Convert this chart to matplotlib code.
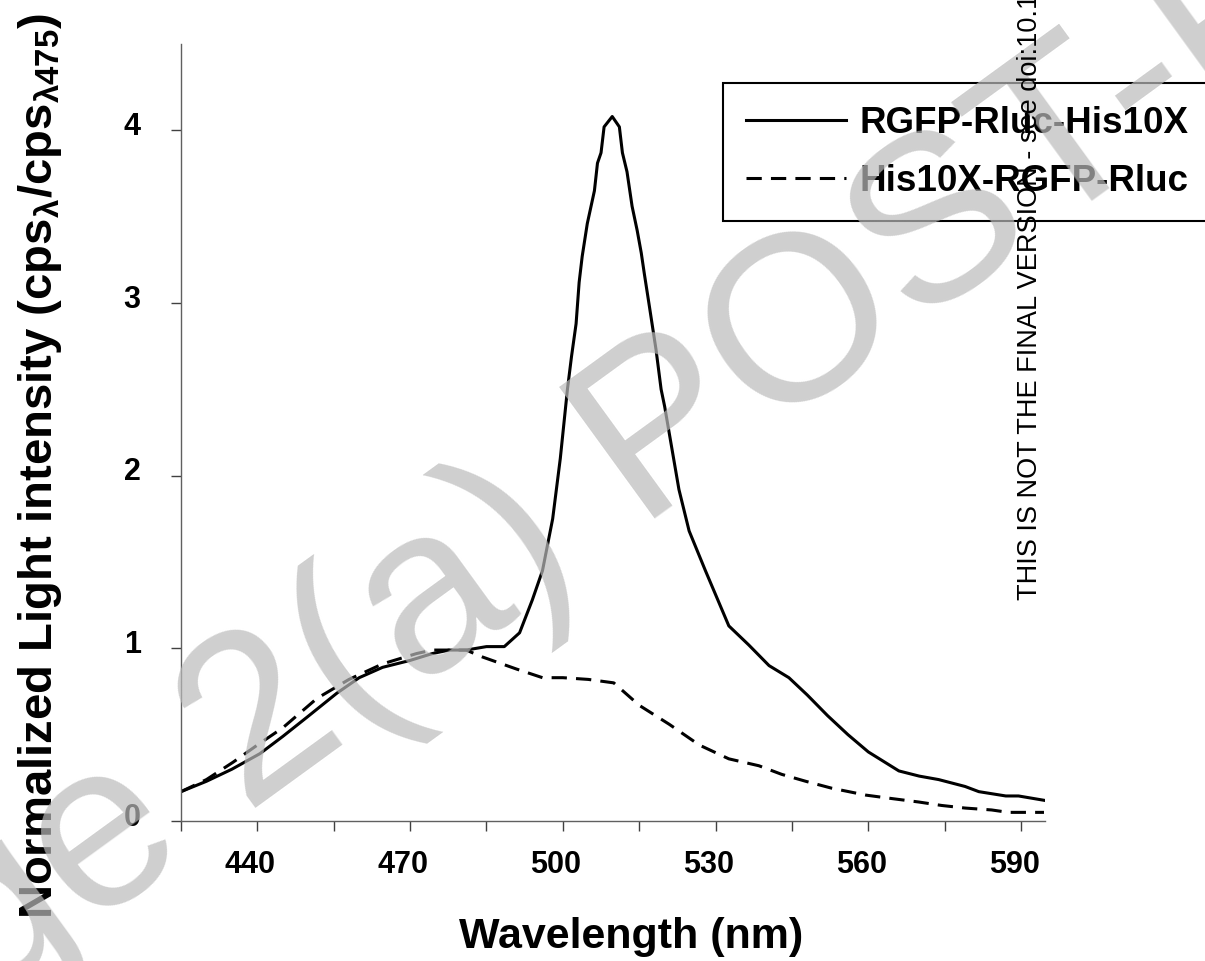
import numpy as np
import matplotlib
matplotlib.use("Agg")
import matplotlib.pyplot as plt
import matplotlib.transforms as mtrans

plt.rcParams['font.family'] = ['Liberation Sans', 'DejaVu Sans']

# RGFP-Rluc-His10X (solid)
wl_solid = [425, 430, 435, 440.5, 445, 449.7, 455.6, 460, 464.6, 470, 474.4, 477.7, 481,
            485, 488.5, 491.5, 494, 496, 498, 499.5, 500.9, 501.7, 502.6, 503.2, 503.8,
            504.8, 506.2, 506.8, 507.5, 508.1, 509.7, 511.1, 511.7, 512.6, 513.6, 514.6,
            515.4, 516, 517, 518.3, 519.3, 520, 522.8, 524.8, 528, 532.6, 536.5, 540.5,
            544.4, 548, 552, 556, 560, 566, 570, 573.8, 579, 581.7, 587, 589.5, 594.5]
int_solid = [0.17, 0.23, 0.30, 0.39, 0.49, 0.60, 0.74, 0.83, 0.89, 0.93, 0.97, 0.99, 0.99,
             1.01, 1.01, 1.09, 1.28, 1.45, 1.75, 2.10, 2.50, 2.69, 2.88, 3.12, 3.27,
             3.46, 3.65, 3.81, 3.87, 4.02, 4.08, 4.02, 3.87, 3.76, 3.56, 3.42,
             3.29, 3.17, 2.98, 2.73, 2.50, 2.40, 1.92, 1.68, 1.45, 1.13, 1.02, 0.90,
             0.83, 0.73, 0.61, 0.50, 0.40, 0.29, 0.26, 0.24, 0.20, 0.17, 0.145, 0.145, 0.12]

# His10X-RGFP-Rluc (dashed)
wl_dash = [425, 430, 435.2, 440, 445, 451.7, 458, 464.6, 471.3, 474.4, 477.7, 481, 484.2,
           490.9, 496, 500, 505, 510, 515, 520.9, 526.8, 532.6, 538.5, 543, 547.7,
           552.8, 559.5, 564.6, 569.9, 574.4, 579, 584.2, 587.5, 594.5]
int_dash = [0.17, 0.24, 0.34, 0.44, 0.54, 0.71, 0.82, 0.91, 0.97, 0.99, 0.99, 0.99, 0.95,
            0.88, 0.83, 0.83, 0.82, 0.80, 0.67, 0.56, 0.44, 0.36, 0.32, 0.27, 0.23,
            0.19, 0.15, 0.13, 0.11, 0.09, 0.075, 0.064, 0.05, 0.05]

x_ticks = [425, 440, 455, 470, 485, 500, 515, 530, 545, 560, 575, 590]
x_labels = ['', '440', '', '470', '', '500', '', '530', '', '560', '', '590']
y_ticks = [0, 1, 2, 3, 4]

fig = plt.figure(figsize=(12.05, 9.61), dpi=100)
ax = fig.add_axes([181/1205, 1-821/961, (1045-181)/1205, (821-44)/961])

ax.plot(wl_solid, int_solid, color='black', lw=2.2, label='RGFP-Rluc-His10X')
ax.plot(wl_dash, int_dash, color='black', lw=2.2, dashes=(5, 3), label='His10X-RGFP-Rluc')

ax.set_xlim(425, 594.7)
ax.set_ylim(0, 4.5)
ax.set_xticks(x_ticks)
ax.set_xticklabels(x_labels)
ax.set_yticks(y_ticks)
for s in ['top', 'right']:
    ax.spines[s].set_visible(False)
for s in ['left', 'bottom']:
    ax.spines[s].set_color('#606060')
    ax.spines[s].set_linewidth(1.0)
ax.tick_params(axis='both', direction='out', length=7, width=1, color='#404040',
               labelsize=22)
ax.tick_params(axis='x', pad=14)
ax.tick_params(axis='y', pad=22)
for lbl in ax.get_xticklabels() + ax.get_yticklabels():
    lbl.set_fontweight('bold')
# labels sit a little left/up of their ticks, as in the original
off_x = mtrans.ScaledTranslation(-7/100, 0, fig.dpi_scale_trans)
off_y = mtrans.ScaledTranslation(0, 7/100, fig.dpi_scale_trans)
for lbl in ax.get_xticklabels():
    lbl.set_transform(lbl.get_transform() + off_x)
for lbl in ax.get_yticklabels():
    lbl.set_transform(lbl.get_transform() + off_y)

fig.text(631/1205, 1-937/961, 'Wavelength (nm)', fontsize=31, fontweight='bold',
         ha='center', va='center')
fig.text(40/1205, 1-466/961,
         r'Normalized Light intensity (cps$_\mathregular{λ}$/cps$_\mathregular{λ475}$)',
         fontsize=34, fontweight='bold', rotation=90, ha='center', va='center')

leg = ax.legend(loc='upper left', bbox_to_anchor=(723/1205, 1-83/961),
                bbox_transform=fig.transFigure, fontsize=26.5, handlelength=2.72,
                handletextpad=0.38, labelspacing=0.62, borderpad=0.62,
                fancybox=False, framealpha=1, edgecolor='black', borderaxespad=0)
leg.get_frame().set_linewidth(1.5)
for t in leg.get_texts():
    t.set_fontweight('bold')

# watermarks
fig.text(-253/1205, 1-1177/961, 'Page 2(a) POST-PRINT', fontsize=170, color='#bbbbbb',
         alpha=0.7, rotation=36, rotation_mode='anchor', ha='left', va='baseline',
         zorder=10)
fig.text(1037/1205, 1-600/961, 'THIS IS NOT THE FINAL VERSION - see doi:10.1016',
         fontsize=19.5, color='black', rotation=90, rotation_mode='anchor',
         ha='left', va='baseline', zorder=11)

fig.savefig('out.png', dpi=100)
